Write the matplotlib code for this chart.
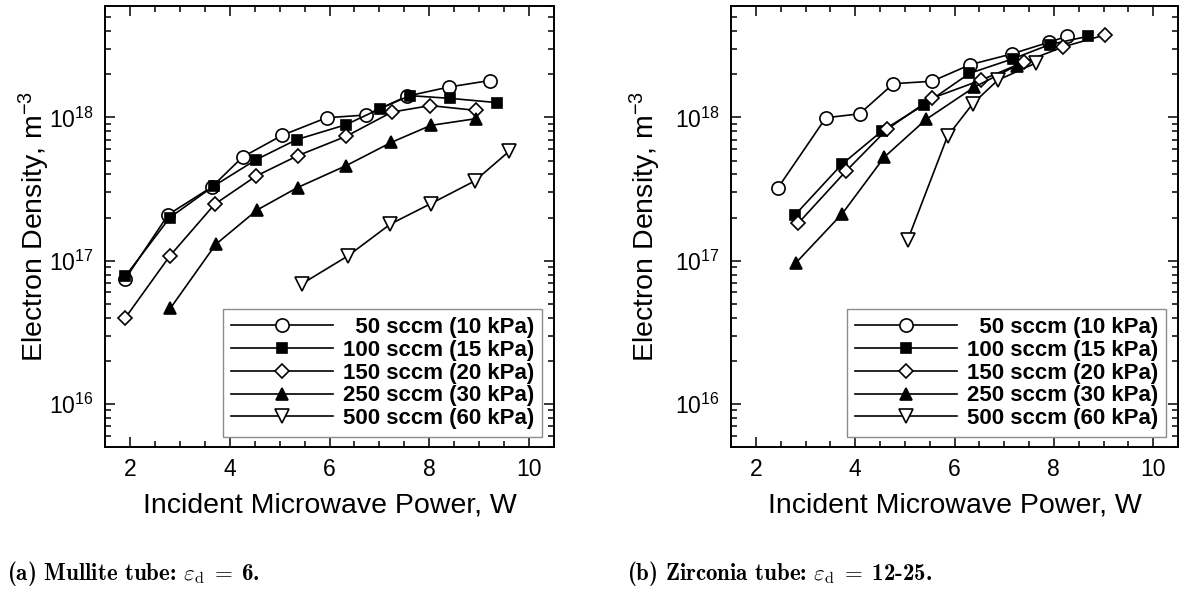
import matplotlib.pyplot as plt
from matplotlib.ticker import MultipleLocator, LogLocator, NullFormatter

plt.rcParams['font.family'] = ['Liberation Sans', 'DejaVu Sans']
plt.rcParams['mathtext.fontset'] = 'custom'
plt.rcParams['mathtext.rm'] = 'Liberation Sans'
plt.rcParams['mathtext.it'] = 'Liberation Sans:italic'
plt.rcParams['mathtext.bf'] = 'Liberation Sans:bold'

# figure space keeps the shorter label right-aligned with the others
labels = ['\u200750 sccm (10 kPa)', '100 sccm (15 kPa)', '150 sccm (20 kPa)',
          '250 sccm (30 kPa)', '500 sccm (60 kPa)']

# (a) mullite tube, power in W, density in m^-3
mul_p_50 = [1.90, 2.77, 3.64, 4.26, 5.05, 5.94, 6.73, 7.56, 8.39, 9.21]
mul_n_50 = [7.4e16, 2.1e17, 3.27e17, 5.3e17, 7.5e17, 9.95e17, 1.04e18, 1.41e18, 1.63e18, 1.81e18]
mul_p_100 = [1.91, 2.80, 3.68, 4.52, 5.34, 6.33, 7.01, 7.61, 8.41, 9.35]
mul_n_100 = [7.8e16, 2.0e17, 3.32e17, 5.05e17, 7.0e17, 8.9e17, 1.15e18, 1.42e18, 1.36e18, 1.27e18]
mul_p_150 = [1.91, 2.80, 3.70, 4.53, 5.36, 6.34, 7.25, 8.02, 8.94]
mul_n_150 = [4.0e16, 1.08e17, 2.48e17, 3.9e17, 5.4e17, 7.4e17, 1.09e18, 1.21e18, 1.12e18]
mul_p_250 = [2.81, 3.72, 4.55, 5.36, 6.33, 7.24, 8.03, 8.93]
mul_n_250 = [4.65e16, 1.30e17, 2.26e17, 3.24e17, 4.6e17, 6.7e17, 8.8e17, 9.8e17]
mul_p_500 = [5.45, 6.37, 7.22, 8.03, 8.91, 9.60]
mul_n_500 = [6.9e16, 1.08e17, 1.8e17, 2.5e17, 3.6e17, 5.8e17]

# (b) zirconia tube
zir_p_50 = [2.45, 3.41, 4.09, 4.77, 5.55, 6.32, 7.16, 7.90, 8.27]
zir_n_50 = [3.24e17, 9.95e17, 1.06e18, 1.72e18, 1.79e18, 2.34e18, 2.78e18, 3.35e18, 3.69e18]
zir_p_100 = [2.78, 3.73, 4.55, 5.38, 6.30, 7.18, 7.92, 8.69]
zir_n_100 = [2.07e17, 4.7e17, 8.1e17, 1.22e18, 2.03e18, 2.57e18, 3.23e18, 3.69e18]
zir_p_150 = [2.85, 3.81, 4.65, 5.54, 6.53, 7.39, 8.19, 9.03]
zir_n_150 = [1.82e17, 4.2e17, 8.3e17, 1.36e18, 1.82e18, 2.43e18, 3.11e18, 3.77e18]
zir_p_250 = [2.80, 3.74, 4.59, 5.43, 6.40, 7.25]
zir_n_250 = [9.6e16, 2.13e17, 5.3e17, 9.7e17, 1.63e18, 2.3e18]
zir_p_500 = [5.06, 5.86, 6.37, 6.87, 7.65]
zir_n_500 = [1.4e17, 7.4e17, 1.25e18, 1.82e18, 2.41e18]

markers = [('o', 'white', 9.5), ('s', 'black', 7.5), ('D', 'white', 7.5),
           ('^', 'black', 9), ('v', 'white', 10)]

fig = plt.figure(figsize=(11.82, 5.92), dpi=100)
W, H = 1182, 592
ax1 = fig.add_axes([105 / W, 1 - 447 / H, 449 / W, 441 / H])
ax2 = fig.add_axes([731 / W, 1 - 447 / H, 447 / W, 441 / H])

panels = [
    (ax1, [(mul_p_50, mul_n_50), (mul_p_100, mul_n_100), (mul_p_150, mul_n_150),
           (mul_p_250, mul_n_250), (mul_p_500, mul_n_500)]),
    (ax2, [(zir_p_50, zir_n_50), (zir_p_100, zir_n_100), (zir_p_150, zir_n_150),
           (zir_p_250, zir_n_250), (zir_p_500, zir_n_500)]),
]

for ax, series in panels:
    for (p, n), (m, fc, ms), lab in zip(series, markers, labels):
        ax.plot(p, n, color='black', lw=1.2, marker=m, ms=ms, mfc=fc,
                mec='black', mew=1.2, label=lab)
    ax.set_yscale('log')
    ax.set_xlim(1.5, 10.5)
    ax.set_ylim(5e15, 6e18)
    ax.xaxis.set_major_locator(MultipleLocator(2))
    ax.xaxis.set_minor_locator(MultipleLocator(0.5))
    ax.yaxis.set_major_locator(LogLocator(base=10))
    ax.yaxis.set_minor_locator(LogLocator(base=10, subs=range(2, 10)))
    ax.yaxis.set_minor_formatter(NullFormatter())
    ax.tick_params(which='both', direction='in', top=True, right=True,
                   labelsize=16.5, width=1.1, pad=8)
    ax.tick_params(which='major', length=7.5)
    ax.tick_params(which='minor', length=4)
    for s in ax.spines.values():
        s.set_linewidth(1.4)
    ax.set_xlabel('Incident Microwave Power, W', fontsize=20.5, labelpad=8)
    ax.set_ylabel('Electron Density, m$^{-3}$', fontsize=20.5)

    leg = ax.legend(loc='lower right', bbox_to_anchor=(1 - 12 / 449, 10 / 441),
                    borderaxespad=0, prop=dict(weight='bold', size=16),
                    handlelength=4.6, handletextpad=0.45, labelspacing=0.08,
                    borderpad=0.35, fancybox=False, framealpha=1,
                    edgecolor='#8c8c8c')
    leg.get_frame().set_linewidth(1.0)

ax1.yaxis.set_label_coords(-0.118, 0.5)
ax2.yaxis.set_label_coords(-0.152, 0.5)

fig.text(7 / W, 1 - 574 / H, r'(a) Mullite tube: $\varepsilon_{\mathrm{d}}\;=\;$6.',
         family='cmb10', math_fontfamily='cm', fontsize=16.5, va='center', ha='left')
fig.text(627 / W, 1 - 574 / H, r'(b) Zirconia tube: $\varepsilon_{\mathrm{d}}\;=\;$12-25.',
         family='cmb10', math_fontfamily='cm', fontsize=16.5, va='center', ha='left')

fig.savefig('out.png', dpi=100)
